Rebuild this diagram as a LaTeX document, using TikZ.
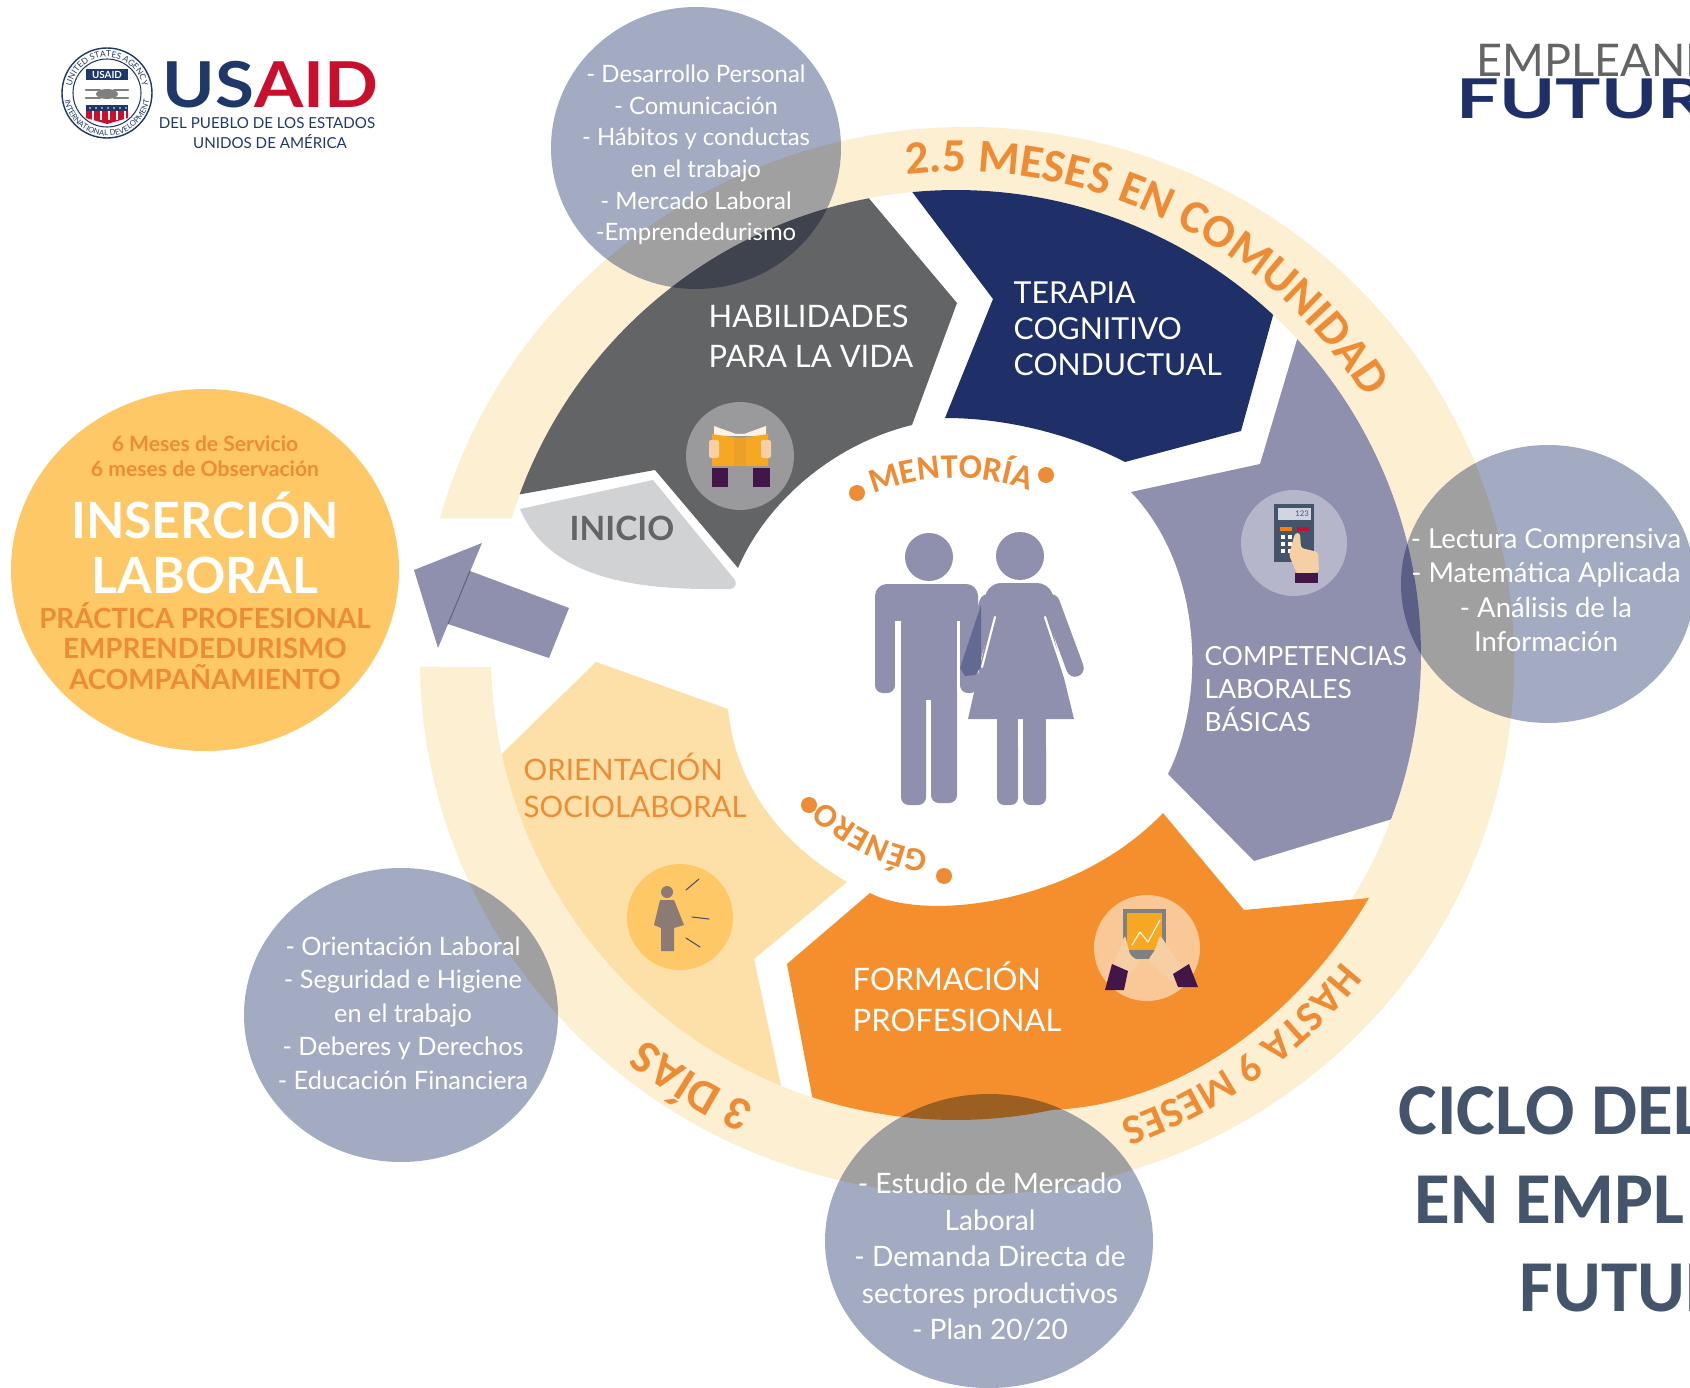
\documentclass[tikz,border=0pt]{standalone}
\usepackage{fontspec}
\setmainfont{Lato}
\newfontfamily\titlefont{Carlito}
\usetikzlibrary{decorations.text}
\definecolor{ringc}{HTML}{FDEFD2}
\definecolor{grayc}{HTML}{636466}
\definecolor{navyc}{HTML}{1F2F68}
\definecolor{lilac}{HTML}{8F8FAE}
\definecolor{orangec}{HTML}{F58F2D}
\definecolor{paleor}{HTML}{FDDFA8}
\definecolor{inicioc}{HTML}{D1D2D4}
\definecolor{bubblec}{HTML}{A3ABC3}
\definecolor{gold}{HTML}{FDC865}
\definecolor{amber}{HTML}{F7A823}
\definecolor{figgray}{HTML}{8C7B74}
\definecolor{textor}{HTML}{EE8C35}
\definecolor{titlec}{HTML}{44546A}
\definecolor{usnavy}{HTML}{1F3769}
\definecolor{usred}{HTML}{C8102E}
\definecolor{cuff}{HTML}{43164A}
\definecolor{skin}{HTML}{F6CFA4}
\newcommand{\fs}[2]{\fontsize{#1}{#2}\selectfont}
\begin{document}
\begin{tikzpicture}[x=0.01cm, y=-0.01cm, line cap=round, line join=round, font=\fs{8}{10}]
	\tikzset{bubbletext/.style={text=white, align=center, inner sep=0pt}}
	\tikzset{seglabel/.style={text=white, align=left, anchor=west, inner sep=0pt}}
	\tikzset{insertext/.style={align=center, inner sep=0pt, font=\fs{6}{7}\bfseries}}
	\tikzset{titletext/.style={anchor=base west, inner sep=0pt, text=titlec, font=\titlefont\fs{20.8}{24}\bfseries}}
	\tikzset{minitext/.style={inner sep=0pt, text=usnavy, font=\fs{4.3}{5}}}
	\useasboundingbox (0,0) rectangle (1690,1388);
	\clip (0,0) rectangle (1690,1388);
	% ring
	\fill[ringc] ([shift={(967,661)}]195.5:547 and 534) arc[start angle=195.5, end angle=539.4, x radius=547, y radius=534]
		-- ([shift={(956,655)}]538.5:465) arc[start angle=538.5, end angle=197.1, radius=465] -- cycle;
	% segments
	\fill[grayc] ([shift={(956,655)}]200.2:465) arc[start angle=200.2, end angle=259.2, radius=465] -- (957,303) -- (912,425)
		.. controls (830,445) and (765,505) .. (738,568) -- (655,470) -- cycle;
	\fill[navyc] ([shift={(956,655)}]264.6:465) arc[start angle=264.6, end angle=313, radius=465] -- (1241,431) -- (1125,462)
		.. controls (1075,436) and (1010,418) .. (945,418) -- (993,299) -- cycle;
	\fill[lilac] ([shift={(956,655)}]317.2:465) arc[start angle=317.2, end angle=380.7, radius=465] -- (1254,861) -- (1168,774)
		.. controls (1205,700) and (1205,570) .. (1131,492) -- (1260,464) -- cycle;
	\fill[orangec] (1369,898) .. controls (1290,1030) and (1170,1105) .. ([shift={(956,655)}]78:465) arc[start angle=78, end angle=108, radius=465] -- (787,964) -- (870,893)
		.. controls (925,922) and (1075,905) .. (1163,813) -- (1244,910) -- cycle;
	\fill[paleor] (596,662) -- ([shift={(956,655)}]167.7:465) arc[start angle=167.7, end angle=112.1, radius=465] -- (754,959) -- (847,882)
		.. controls (775,840) and (735,780) .. (728,709) -- cycle;
	\fill[inicioc] (520,509) -- (653,480) -- (735,580) .. controls (738,588) and (732,590) .. (722,589)
		.. controls (640,590) and (550,580) .. (520,509) -- cycle;
	% arrow
	\fill[lilac] (470,571) -- (569,608) -- (549,658) -- (448,624) -- cycle;
	\fill[lilac] (414,570) -- (482,543) -- (438,648) -- cycle;
	\draw[lilac!70!black, line width=0.3pt] (470,571) -- (448,624);
	% book icon
	\fill[grayc!65!white] (740,456) circle (54);
	\fill[white!90!orange] (714,426) -- (736,434) -- (744,434) -- (766,426) -- (766,436) -- (714,436) -- cycle;
	\fill[amber] (712,434) -- (738,438) -- (742,438) -- (768,434) -- (768,466) -- (712,466) -- cycle;
	\fill[amber!80!brown] (734,438) rectangle (746,466);
	\fill[skin, rounded corners=0.6pt] (709,440) rectangle (719,458);
	\fill[skin, rounded corners=0.6pt] (761,440) rectangle (771,458);
	\fill[cuff] (712,468) rectangle (728,487);
	\fill[cuff] (753,468) rectangle (770,487);
	% calculator icon
	\fill[lilac!65!white] (1294,543) circle (53);
	\fill[titlec] (1274,504) rectangle (1314,562);
	\fill[bubblec!50!white] (1278,508) rectangle (1311,520);
	\node[inner sep=0pt, text=titlec, font=\fs{2.2}{3}] (calcnum) at (1302,514) {123};
	\fill[orange] (1280,527) rectangle (1292,531);
	\fill[usred] (1297,527) rectangle (1309,531);
	\foreach \px in {1281,1288,1295} \foreach \py in {535,542,549} \fill[white] (\px,\py) rectangle ++(4,4);
	\fill[skin, rounded corners=0.8pt] (1295,533) -- (1300,533) -- (1301,548) -- (1318,552) -- (1319,572) -- (1297,574) -- (1289,555) -- cycle;
	\fill[cuff] (1295,573) rectangle (1318,583);
	% tablet icon
	\fill[orangec!50!white] (1147,948) circle (53);
	\fill[gray] (1123,909) rectangle (1166,959);
	\fill[amber] (1127,913) rectangle (1162,950);
	\draw[white, line width=0.3pt] (1132,945) -- (1140,932) -- (1148,942) -- (1160,920);
	\fill[skin, rounded corners=0.8pt] (1125,935) -- (1130,955) -- (1140,962) -- (1124,982) -- (1112,968) -- cycle;
	\fill[skin, rounded corners=0.8pt] (1160,935) -- (1155,950) -- (1148,960) -- (1172,982) -- (1182,968) -- cycle;
	\fill[cuff] (1112,964) -- (1128,971) -- (1124,990) -- (1105,990) -- cycle;
	\fill[cuff] (1173,974) -- (1189,964) -- (1198,987) -- (1178,987) -- cycle;
	% woman icon
	\fill[gold] (680,917) circle (53);
	\fill[figgray] (667,892) circle (6);
	\fill[figgray] (660,900) -- (674,900) -- (684,925) -- (674,928) -- (674,951) -- (661,951) -- (661,928) -- (654,925) -- cycle;
	\draw[titlec, line width=0.3pt] (686,890) -- (699,879);
	\draw[titlec, line width=0.3pt] (692,917) -- (709,919);
	\draw[titlec, line width=0.3pt] (686,938) -- (700,947);
	% central figures
	\fill[lilac] (929,557) circle (24);
	\fill[lilac] (1020,556) circle (24);
	\fill[lilac, rounded corners=3.4pt] (875,650) -- (875,584) -- (978,584) -- (978,650) -- cycle;
	\fill[lilac, rounded corners=2.2pt] (875,620) rectangle (895,693);
	\fill[lilac, rounded corners=2.2pt] (960,620) rectangle (978,693);
	\fill[lilac] (901,600) rectangle (957,700);
	\fill[lilac, rounded corners=2.2pt] (901,680) rectangle (926,805);
	\fill[lilac, rounded corners=2.2pt] (931,680) rectangle (957,803);
	\fill[white] (895,621) rectangle (901,690);
	\fill[white] (957,621) rectangle (960,690);
	\fill[lilac] (995,600) -- (1045,600) -- (1074,719) -- (968,719) -- cycle;
	\draw[lilac, line width=5pt] (988,603) -- (969,668);
	\draw[lilac, line width=5pt] (1051,603) -- (1075,668);
	\fill[lilac, rounded corners=3pt] (979,612) -- (990,583) -- (1048,583) -- (1060,612) -- cycle;
	\fill[lilac!60!navyc] (981,605) -- (981,667) -- (975,675) -- (965,676) -- (960,668) -- cycle;
	\fill[lilac, rounded corners=2pt] (997,740) -- (997,805) -- (1018,805) -- (1018,740) -- cycle;
	\fill[lilac, rounded corners=2pt] (1023,740) -- (1023,805) -- (1046,805) -- (1046,740) -- cycle;
	\fill[lilac] (997,718) rectangle (1018,760);
	\fill[lilac] (1023,718) rectangle (1046,760);
	\draw[white, line width=0.6pt] (995,617) -- (982,667);
	\draw[white, line width=0.6pt] (1045,617) -- (1065,677);
	\fill[textor] (857,493) circle (8);
	\fill[textor] (1046,475) circle (8);
	\fill[textor] (809,805) circle (8);
	\fill[textor] (944,876) circle (8);
	% text on the ring
	\path[decorate, decoration={text along path, text align=center, text={|\titlefont\bfseries\fs{13.4}{15}\color{textor}|2.5 MESES EN COMUNIDAD}}]
		([shift={(956,655)}]256:483) arc[start angle=256, end angle=336, radius=483];
	\path[decorate, decoration={text along path, text align=center, text={|\titlefont\bfseries\fs{12}{14}\color{textor}|HASTA 9 MESES}}]
		([shift={(956,655)}]25:493) arc[start angle=25, end angle=84, radius=493];
	\path[decorate, decoration={text along path, text align=center, text={|\titlefont\bfseries\fs{13.5}{15}\color{textor}|3 DÍAS}}]
		([shift={(956,655)}]100:493) arc[start angle=100, end angle=143, radius=493];
	\path[decorate, decoration={text along path, text align=center, text={|\titlefont\bfseries\fs{9.8}{12}\color{textor}|MENTORÍA}}]
		([shift={(955,700)}]238:222) arc[start angle=238, end angle=300, radius=222];
	\path[decorate, decoration={text along path, text align=center, text={|\titlefont\bfseries\fs{9.5}{11}\color{textor}|GÉNERO}}]
		([shift={(955,665)}]88:188) arc[start angle=88, end angle=144, radius=188];
	% bubbles
	\begin{scope}[blend mode=multiply]
		\fill[bubblec] (696,148) ellipse (145 and 141);
		\fill[bubblec] (1548,584) ellipse (147 and 139);
		\fill[bubblec] (401,1015) ellipse (157 and 147);
		\fill[bubblec] (989,1241) ellipse (164 and 147);
	\end{scope}
	\node[bubbletext, font=\fs{6.8}{9}] (habtext) at (696,155) {- Desarrollo Personal\\- Comunicación\\- Hábitos y conductas\\en el trabajo\\- Mercado Laboral\\-Emprendedurismo};
	\node[bubbletext, font=\fs{7.8}{9.75}] (comptext) at (1546,590) {- Lectura Comprensiva\\- Matemática Aplicada\\- Análisis de la\\Información};
	\node[bubbletext, font=\fs{7.2}{9.5}] (orientext) at (403,1013) {- Orientación Laboral\\- Seguridad e Higiene\\en el trabajo\\- Deberes y Derechos\\- Educación Financiera};
	\node[bubbletext, font=\fs{8}{10.4}] (formtext) at (990,1257) {- Estudio de Mercado\\Laboral\\- Demanda Directa de\\sectores productivos\\- Plan 20/20};
	% segment labels
	\node[seglabel, font=\fs{8.8}{11.4}] (habilidades) at (708,336) {HABILIDADES\\PARA LA VIDA};
	\node[seglabel, font=\fs{8.6}{10.3}] (terapia) at (1013,329) {TERAPIA\\COGNITIVO\\CONDUCTUAL};
	\node[seglabel, font=\fs{7.5}{9.5}] (competencias) at (1204,689) {COMPETENCIAS\\LABORALES\\BÁSICAS};
	\node[seglabel, font=\fs{8.8}{11.6}] (formacion) at (852,997) {FORMACIÓN\\PROFESIONAL};
	\node[seglabel, text=textor, font=\fs{8.4}{10.5}] (orientacion) at (523,785) {ORIENTACIÓN\\SOCIOLABORAL};
	\node[inner sep=0pt, text=grayc, font=\fs{9.5}{11}\bfseries] (inicio) at (622,528) {INICIO};
	% insercion laboral
	\fill[gold] (205,570) ellipse (194 and 181);
	\node[insertext, text=textor] (servicio) at (205,456) {6 Meses de Servicio\\6 meses de Observación};
	\node[insertext, text=white, font=\fs{14.2}{15.7}\bfseries] (insercion) at (205,543) {INSERCIÓN\\LABORAL};
	\node[insertext, text=textor, font=\fs{7.9}{8.7}\bfseries] (practica) at (205,646) {PRÁCTICA PROFESIONAL\\EMPRENDEDURISMO\\ACOMPAÑAMIENTO};
	% usaid logo
	\draw[usnavy, line width=0.4pt] (107,93) circle (45);
	\draw[usnavy, line width=0.3pt] (107,93) circle (34);
	\path[decorate, decoration={text along path, text align=center, text={|\fs{2.4}{3}\color{usnavy}|UNITED STATES AGENCY}}]
		([shift={(107,93)}]190:36) arc[start angle=190, end angle=350, radius=36];
	\path[decorate, decoration={text along path, text align=center, text={|\fs{2.2}{3}\color{usnavy}|INTERNATIONAL DEVELOPMENT}}]
		([shift={(107,93)}]175:43) arc[start angle=175, end angle=5, radius=43];
	\fill[usnavy] (86,69) rectangle (128,80);
	\node[inner sep=0pt, text=white, font=\fs{2.8}{3}\bfseries] (sealname) at (107,74.5) {USAID};
	\draw[gray, line width=0.8pt] (86,90) -- (100,90) (114,90) -- (128,90) (86,98) -- (100,98) (114,98) -- (128,98);
	\fill[gray] (107,94) ellipse (11 and 5);
	\fill[usnavy] (86,105) rectangle (128,111);
	\foreach \sx in {90,96,...,126} \fill[white] (\sx,108) circle (0.9);
	\fill[usred] (86,111) -- (128,111) -- (128,118) -- (107,124) -- (86,118) -- cycle;
	\foreach \sx in {92,100,...,124} \fill[white] (\sx,111) rectangle ++(2,9);
	\node[anchor=base west, inner sep=0pt, font=\fs{18}{20}\bfseries] (usaid) at (162,108) {\scalebox{1.12}[1]{\textcolor{usnavy}{US}\textcolor{usred}{AID}}};
	\node[minitext] (pueblo) at (267,123) {DEL PUEBLO DE LOS ESTADOS};
	\node[minitext] (america) at (270,142) {UNIDOS DE AMÉRICA};
	% empleando logo
	\node[anchor=base west, inner sep=0pt, text=grayc, font=\fs{12.8}{15}] (empleando) at (1476,77) {EMPLEAND};
	\node[anchor=base west, inner sep=0pt, text=navyc, font=\fs{15.6}{18}\bfseries] (futuro) at (1456,119) {\scalebox{1.38}[1]{FUTUR}};
	% title
	\node[titletext] (ciclo) at (1398,1134) {CICLO DEL};
	\node[titletext] (empl) at (1414,1223) {EN EMPL};
	\node[titletext] (futur) at (1519,1311) {FUTUR};
\end{tikzpicture}
\end{document}
